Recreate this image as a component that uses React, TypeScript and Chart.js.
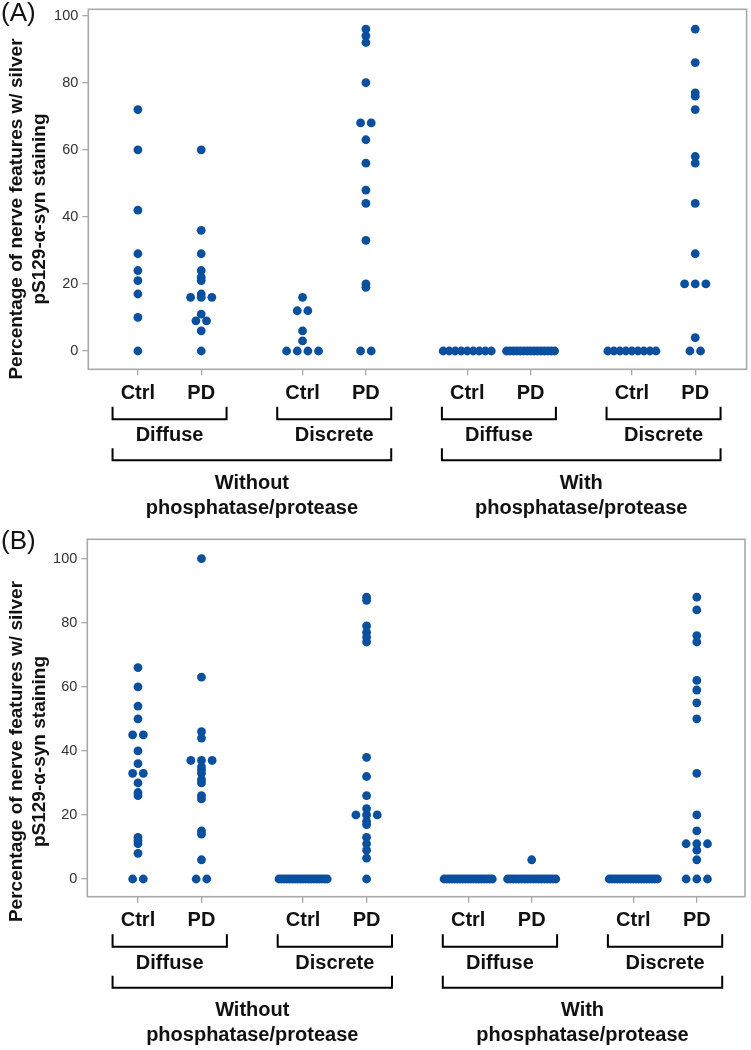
import React, { useEffect, useRef } from 'react';
import { Chart, registerables } from 'chart.js';

Chart.register(...registerables);

// ---------------- data ----------------
const subgroupLabels = ['Ctrl', 'PD'];
const stainLabels = ['Diffuse', 'Discrete'];
const treatmentLabels = [
  ['Without', 'phosphatase/protease'],
  ['With', 'phosphatase/protease'],
];
const yTickValues = [0, 20, 40, 60, 80, 100];
const yAxisTitle = ['Percentage of nerve features w/ silver', 'pS129-\u03b1-syn staining'];

// Panel (A)
const aWithoutDiffuseCtrl = [72, 60, 42, 29, 24, 21, 17, 10, 0];
const aWithoutDiffusePD = [60, 36, 29, 24, 22, 21, 17, 16, 16, 16, 11, 9, 9, 6, 0];
const aWithoutDiscreteCtrl = [16, 12, 12, 6, 3, 0, 0, 0, 0];
const aWithoutDiscretePD = [96, 94, 92, 80, 68, 68, 63, 56, 48, 44, 33, 20, 19, 0, 0];
const aWithDiffuseCtrl = [0, 0, 0, 0, 0, 0, 0, 0, 0];
const aWithDiffusePD = [0, 0, 0, 0, 0, 0, 0, 0, 0, 0, 0, 0, 0, 0, 0];
const aWithDiscreteCtrl = [0, 0, 0, 0, 0, 0, 0, 0, 0];
const aWithDiscretePD = [96, 86, 77, 76, 72, 58, 56, 44, 29, 20, 20, 20, 4, 0, 0];

// Panel (B)
const bWithoutDiffuseCtrl = [66, 60, 54, 50, 45, 45, 40, 36, 33, 33, 30, 27, 26, 13, 12, 11, 8, 0, 0];
const bWithoutDiffusePD = [100, 63, 46, 44, 37, 37, 37, 35, 34, 33, 31, 30, 26, 25, 15, 14, 6, 0, 0];
const bWithoutDiscreteCtrl = [0, 0, 0, 0, 0, 0, 0, 0, 0, 0, 0, 0, 0, 0, 0, 0, 0, 0, 0];
const bWithoutDiscretePD = [88, 87, 79, 77, 75.5, 74, 38, 32, 26, 22, 20, 20, 20, 18, 17, 13, 11, 9, 6.5, 0];
const bWithDiffuseCtrl = [0, 0, 0, 0, 0, 0, 0, 0, 0, 0, 0, 0, 0, 0, 0, 0, 0, 0, 0];
const bWithDiffusePD = [6, 0, 0, 0, 0, 0, 0, 0, 0, 0, 0, 0, 0, 0, 0, 0, 0, 0, 0];
const bWithDiscreteCtrl = [0, 0, 0, 0, 0, 0, 0, 0, 0, 0, 0, 0, 0, 0, 0, 0, 0, 0, 0];
const bWithDiscretePD = [88, 84, 76, 74, 62, 59, 55, 50, 33, 20, 15, 11, 11, 11, 9, 6, 0, 0, 0];

// ---------------- layout / style ----------------
const W = 751;
const H = 525;
const DOT = '#0b4f9f';
const FRAME = '#a9a9a9';
const TEXT = '#111111';
const LABEL_FONT = '"Liberation Sans", Arial, sans-serif';
const PAIR_GAP = 2.6;
const BRACKET_EXT = 0.4;
const DOT_STEP = 0.168;
const MAX_SPREAD = 0.76;

const catPos = (i: number) => Math.floor(i / 2) * PAIR_GAP + (i % 2);

function spread(values: number[], center: number) {
  const counts = new Map<number, number>();
  values.forEach((v) => counts.set(v, (counts.get(v) || 0) + 1));
  const seen = new Map<number, number>();
  return values.map((v) => {
    const n = counts.get(v) as number;
    const k = seen.get(v) || 0;
    seen.set(v, k + 1);
    const step = n > 1 ? Math.min(DOT_STEP, MAX_SPREAD / (n - 1)) : 0;
    return { x: center + (k - (n - 1) / 2) * step, y: v };
  });
}

type PanelCfg = {
  tag: string;
  tagBaseline: number;
  titleY: number;
  groups: number[][];
  area: { left: number; top: number; right: number; bottom: number };
  xMin: number;
  xMax: number;
  yMin: number;
  yMax: number;
};

const panelA: PanelCfg = {
  tag: '(A)',
  tagBaseline: 21,
  titleY: 209,
  groups: [
    aWithoutDiffuseCtrl, aWithoutDiffusePD, aWithoutDiscreteCtrl, aWithoutDiscretePD,
    aWithDiffuseCtrl, aWithDiffusePD, aWithDiscreteCtrl, aWithDiscretePD,
  ],
  area: { left: 88.3, top: 9.3, right: 748.3, bottom: 369.3 },
  xMin: -0.783,
  xMax: 9.611,
  yMin: -5.46,
  yMax: 101.9,
};

const panelB: PanelCfg = {
  tag: '(B)',
  tagBaseline: 24,
  titleY: 226.5,
  groups: [
    bWithoutDiffuseCtrl, bWithoutDiffusePD, bWithoutDiscreteCtrl, bWithoutDiscretePD,
    bWithDiffuseCtrl, bWithDiffusePD, bWithDiscreteCtrl, bWithDiscretePD,
  ],
  area: { left: 87.3, top: 14.3, right: 745, bottom: 371.7 },
  xMin: -0.798,
  xMax: 9.559,
  yMin: -5.53,
  yMax: 106.06,
};

function decorPlugin(cfg: PanelCfg) {
  return {
    id: 'decor',
    afterDraw(chart: any) {
      const { ctx, chartArea: a } = chart;
      const x = chart.scales.x;
      ctx.save();
      // frame
      ctx.strokeStyle = FRAME;
      ctx.lineWidth = 1.6;
      ctx.strokeRect(a.left, a.top, a.right - a.left, a.bottom - a.top);

      // panel tag
      ctx.fillStyle = TEXT;
      ctx.font = `26px ${LABEL_FONT}`;
      ctx.textAlign = 'left';
      ctx.textBaseline = 'alphabetic';
      ctx.fillText(cfg.tag, 1, cfg.tagBaseline);

      // y axis title (two lines)
      ctx.save();
      ctx.translate(17, cfg.titleY);
      ctx.rotate(-Math.PI / 2);
      ctx.font = `bold 19px ${LABEL_FONT}`;
      ctx.textAlign = 'center';
      ctx.textBaseline = 'middle';
      ctx.fillText(yAxisTitle[0], 0, 0);
      ctx.fillText(yAxisTitle[1], 0, 23);
      ctx.restore();

      // brackets
      const b = a.bottom;
      ctx.strokeStyle = '#000';
      ctx.lineWidth = 2;
      ctx.font = `bold 20px ${LABEL_FONT}`;
      ctx.textAlign = 'center';
      ctx.textBaseline = 'middle';
      const bracket = (x0: number, x1: number, yTop: number, yLine: number) => {
        ctx.beginPath();
        ctx.moveTo(x0, yTop);
        ctx.lineTo(x0, yLine);
        ctx.lineTo(x1, yLine);
        ctx.lineTo(x1, yTop);
        ctx.stroke();
      };
      for (let p = 0; p < 4; p++) {
        const x0 = x.getPixelForValue(catPos(2 * p) - BRACKET_EXT);
        const x1 = x.getPixelForValue(catPos(2 * p + 1) + BRACKET_EXT);
        bracket(x0, x1, b + 37.5, b + 50);
        ctx.fillText(stainLabels[p % 2], (x0 + x1) / 2, b + 66.5);
      }
      for (let t = 0; t < 2; t++) {
        const x0 = x.getPixelForValue(catPos(4 * t) - BRACKET_EXT);
        const x1 = x.getPixelForValue(catPos(4 * t + 3) + BRACKET_EXT);
        bracket(x0, x1, b + 79, b + 91);
        ctx.fillText(treatmentLabels[t][0], (x0 + x1) / 2, b + 114);
        ctx.fillText(treatmentLabels[t][1], (x0 + x1) / 2, b + 139);
      }
      ctx.restore();
    },
  };
}

function buildConfig(cfg: PanelCfg): any {
  const datasets = cfg.groups.map((vals, i) => ({
    data: spread(vals, catPos(i)),
    backgroundColor: DOT,
    borderWidth: 0,
    pointRadius: 4.4,
    pointHoverRadius: 4.4,
  }));
  const catValues = cfg.groups.map((_, i) => catPos(i));
  return {
    type: 'scatter',
    data: { datasets },
    options: {
      responsive: false,
      animation: false,
      events: [],
      layout: { padding: { left: 0, top: cfg.area.top, right: W - cfg.area.right, bottom: 0 } },
      plugins: { legend: { display: false }, tooltip: { enabled: false } },
      scales: {
        x: {
          type: 'linear',
          min: cfg.xMin,
          max: cfg.xMax,
          afterBuildTicks: (s: any) => {
            s.ticks = catValues.map((v) => ({ value: v }));
          },
          afterFit: (s: any) => {
            s.height = H - cfg.area.bottom;
            s.paddingLeft = 0;
            s.paddingRight = 0;
          },
          ticks: {
            autoSkip: false,
            maxRotation: 0,
            padding: 6,
            color: TEXT,
            font: { family: LABEL_FONT, size: 20, weight: 'bold' },
            callback: (_v: any, i: number) => subgroupLabels[i % 2],
          },
          grid: { drawOnChartArea: false, drawTicks: true, tickLength: 6, color: FRAME, lineWidth: 1.3 },
          border: { display: false },
        },
        y: {
          type: 'linear',
          min: cfg.yMin,
          max: cfg.yMax,
          afterBuildTicks: (s: any) => {
            s.ticks = yTickValues.map((v) => ({ value: v }));
          },
          afterFit: (s: any) => {
            s.width = cfg.area.left;
            s.paddingTop = 0;
            s.paddingBottom = 0;
          },
          ticks: {
            padding: 4,
            color: '#333333',
            font: { family: LABEL_FONT, size: 14.5 },
          },
          grid: { drawOnChartArea: false, drawTicks: true, tickLength: 6, color: FRAME, lineWidth: 1.3 },
          border: { display: false },
        },
      },
    },
    plugins: [decorPlugin(cfg)],
  };
}

function Panel({ cfg }: { cfg: PanelCfg }) {
  const ref = useRef<HTMLCanvasElement>(null);
  useEffect(() => {
    const chart = new Chart(ref.current as HTMLCanvasElement, buildConfig(cfg));
    return () => chart.destroy();
  }, [cfg]);
  return <canvas ref={ref} width={W} height={H} style={{ display: 'block', width: W, height: H }} />;
}

export default function App() {
  return (
    <div
      style={{
        position: 'absolute',
        left: 0,
        top: 0,
        width: W,
        height: 1050,
        background: '#ffffff',
        overflow: 'hidden',
      }}
    >
      <Panel cfg={panelA} />
      <Panel cfg={panelB} />
    </div>
  );
}
